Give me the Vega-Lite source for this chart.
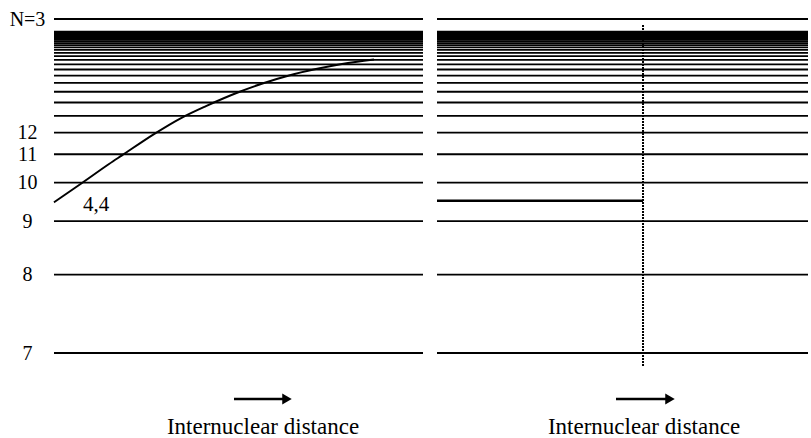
{
  "$schema": "https://vega.github.io/schema/vega-lite/v6.json",
  "padding": {"left": 9, "top": 9, "right": 2, "bottom": 2},
  "background": "white",
  "spacing": 14,
  "bounds": "flush",
  "config": {"view": {"stroke": null}},
  "datasets": {
    "levels": [
      {"n": "N=3", "E": 0},
      {"n": 7, "E": -0.020408},
      {"n": 8, "E": -0.015625},
      {"n": 9, "E": -0.012346},
      {"n": 10, "E": -0.01},
      {"n": 11, "E": -0.008264},
      {"n": 12, "E": -0.006944},
      {"n": 13, "E": -0.005917},
      {"n": 14, "E": -0.005102},
      {"n": 15, "E": -0.004444},
      {"n": 16, "E": -0.003906},
      {"n": 17, "E": -0.00346},
      {"n": 18, "E": -0.003086},
      {"n": 19, "E": -0.00277},
      {"n": 20, "E": -0.0025},
      {"n": 21, "E": -0.002268},
      {"n": 22, "E": -0.002066},
      {"n": 23, "E": -0.00189},
      {"n": 24, "E": -0.001736},
      {"n": 25, "E": -0.0016},
      {"n": 26, "E": -0.001479},
      {"n": 27, "E": -0.001372},
      {"n": 28, "E": -0.001276},
      {"n": 29, "E": -0.001189},
      {"n": 30, "E": -0.001111},
      {"n": 31, "E": -0.001041},
      {"n": 32, "E": -0.000977},
      {"n": 33, "E": -0.000918},
      {"n": 34, "E": -0.000865},
      {"n": 35, "E": -0.000816},
      {"n": 36, "E": -0.000772}
    ],
    "curve": [
      {"R": 0, "E": -0.0112},
      {"R": 0.759, "E": -0.01002},
      {"R": 1.491, "E": -0.00886},
      {"R": 1.843, "E": -0.00833},
      {"R": 2.71, "E": -0.00703},
      {"R": 3.469, "E": -0.00602},
      {"R": 4.119, "E": -0.00532},
      {"R": 5.014, "E": -0.00446},
      {"R": 5.691, "E": -0.00391},
      {"R": 6.369, "E": -0.00345},
      {"R": 7.1, "E": -0.00306},
      {"R": 7.805, "E": -0.00275},
      {"R": 8.672, "E": -0.00247}
    ]
  },
  "hconcat": [
    {
      "width": 369,
      "height": 334,
      "layer": [
        {
          "data": {"name": "levels"},
          "mark": {"type": "rule", "color": "black", "strokeWidth": 1.8},
          "encoding": {
            "y": {
              "field": "E", "type": "quantitative",
              "scale": {"domain": [-0.020408, 0], "nice": false, "zero": false},
              "axis": {
                "values": [0, -0.006944, -0.008264, -0.01, -0.012346, -0.015625, -0.020408],
                "labelExpr": "datum.value == 0 ? 'N=3' : format(sqrt(-1/datum.value), '.0f')",
                "title": null, "domain": false, "ticks": false, "grid": false,
                "labelFont": "Liberation Serif", "labelFontSize": 20, "labelColor": "black",
                "labelAlign": "center", "labelBaseline": "middle", "labelPadding": 27,
                "labelOverlap": false, "labelFlush": false, "labelBound": false
              }
            }
          }
        },
        {
          "data": {"name": "curve"},
          "mark": {"type": "line", "color": "black", "strokeWidth": 2, "interpolate": "monotone"},
          "encoding": {
            "x": {"field": "R", "type": "quantitative", "scale": {"domain": [0, 10], "nice": false, "zero": false}, "axis": null},
            "y": {"field": "E", "type": "quantitative"}
          }
        },
        {
          "data": {"values": [{}]},
          "mark": {"type": "text", "text": "4,4", "font": "Liberation Serif", "fontSize": 21, "color": "black", "align": "center", "baseline": "middle"},
          "encoding": {
            "x": {"datum": 1.14, "type": "quantitative"},
            "y": {"datum": -0.01137, "type": "quantitative"}
          }
        },
        {
          "data": {"values": [{}]},
          "mark": {"type": "rule", "color": "black", "strokeWidth": 2.5},
          "encoding": {
            "x": {"datum": 4.878, "type": "quantitative"},
            "x2": {"datum": 6.26},
            "y": {"datum": -0.02322, "type": "quantitative"}
          }
        },
        {
          "data": {"values": [{}]},
          "mark": {"type": "point", "shape": "triangle-right", "filled": true, "color": "black", "opacity": 1, "size": 120},
          "encoding": {
            "x": {"datum": 6.314, "type": "quantitative"},
            "y": {"datum": -0.02322, "type": "quantitative"}
          }
        },
        {
          "data": {"values": [{}]},
          "mark": {"type": "text", "text": "Internuclear distance", "font": "Liberation Serif", "fontSize": 23, "color": "black", "align": "center", "baseline": "middle"},
          "encoding": {
            "x": {"datum": 5.664, "type": "quantitative"},
            "y": {"datum": -0.0249, "type": "quantitative"}
          }
        }
      ]
    },
    {
      "width": 371,
      "height": 334,
      "layer": [
        {
          "data": {"name": "levels"},
          "mark": {"type": "rule", "color": "black", "strokeWidth": 1.8},
          "encoding": {
            "y": {
              "field": "E", "type": "quantitative",
              "scale": {"domain": [-0.020408, 0], "nice": false, "zero": false},
              "axis": null
            }
          }
        },
        {
          "data": {"values": [{}]},
          "mark": {"type": "rule", "color": "black", "strokeWidth": 2.5},
          "encoding": {
            "x": {"datum": 0, "type": "quantitative", "scale": {"domain": [0, 10], "nice": false, "zero": false}, "axis": null},
            "x2": {"datum": 5.553},
            "y": {"datum": -0.0111, "type": "quantitative"}
          }
        },
        {
          "data": {"values": [{}]},
          "mark": {"type": "rule", "color": "black", "strokeWidth": 2, "strokeDash": [2, 1]},
          "encoding": {
            "x": {"datum": 5.553, "type": "quantitative"},
            "y": {"datum": -0.00037, "type": "quantitative"},
            "y2": {"datum": -0.02126}
          }
        },
        {
          "data": {"values": [{}]},
          "mark": {"type": "rule", "color": "black", "strokeWidth": 2.5},
          "encoding": {
            "x": {"datum": 4.825, "type": "quantitative"},
            "x2": {"datum": 6.2},
            "y": {"datum": -0.02322, "type": "quantitative"}
          }
        },
        {
          "data": {"values": [{}]},
          "mark": {"type": "point", "shape": "triangle-right", "filled": true, "color": "black", "opacity": 1, "size": 120},
          "encoding": {
            "x": {"datum": 6.28, "type": "quantitative"},
            "y": {"datum": -0.02322, "type": "quantitative"}
          }
        },
        {
          "data": {"values": [{}]},
          "mark": {"type": "text", "text": "Internuclear distance", "font": "Liberation Serif", "fontSize": 23, "color": "black", "align": "center", "baseline": "middle"},
          "encoding": {
            "x": {"datum": 5.58, "type": "quantitative"},
            "y": {"datum": -0.0249, "type": "quantitative"}
          }
        }
      ]
    }
  ]
}
